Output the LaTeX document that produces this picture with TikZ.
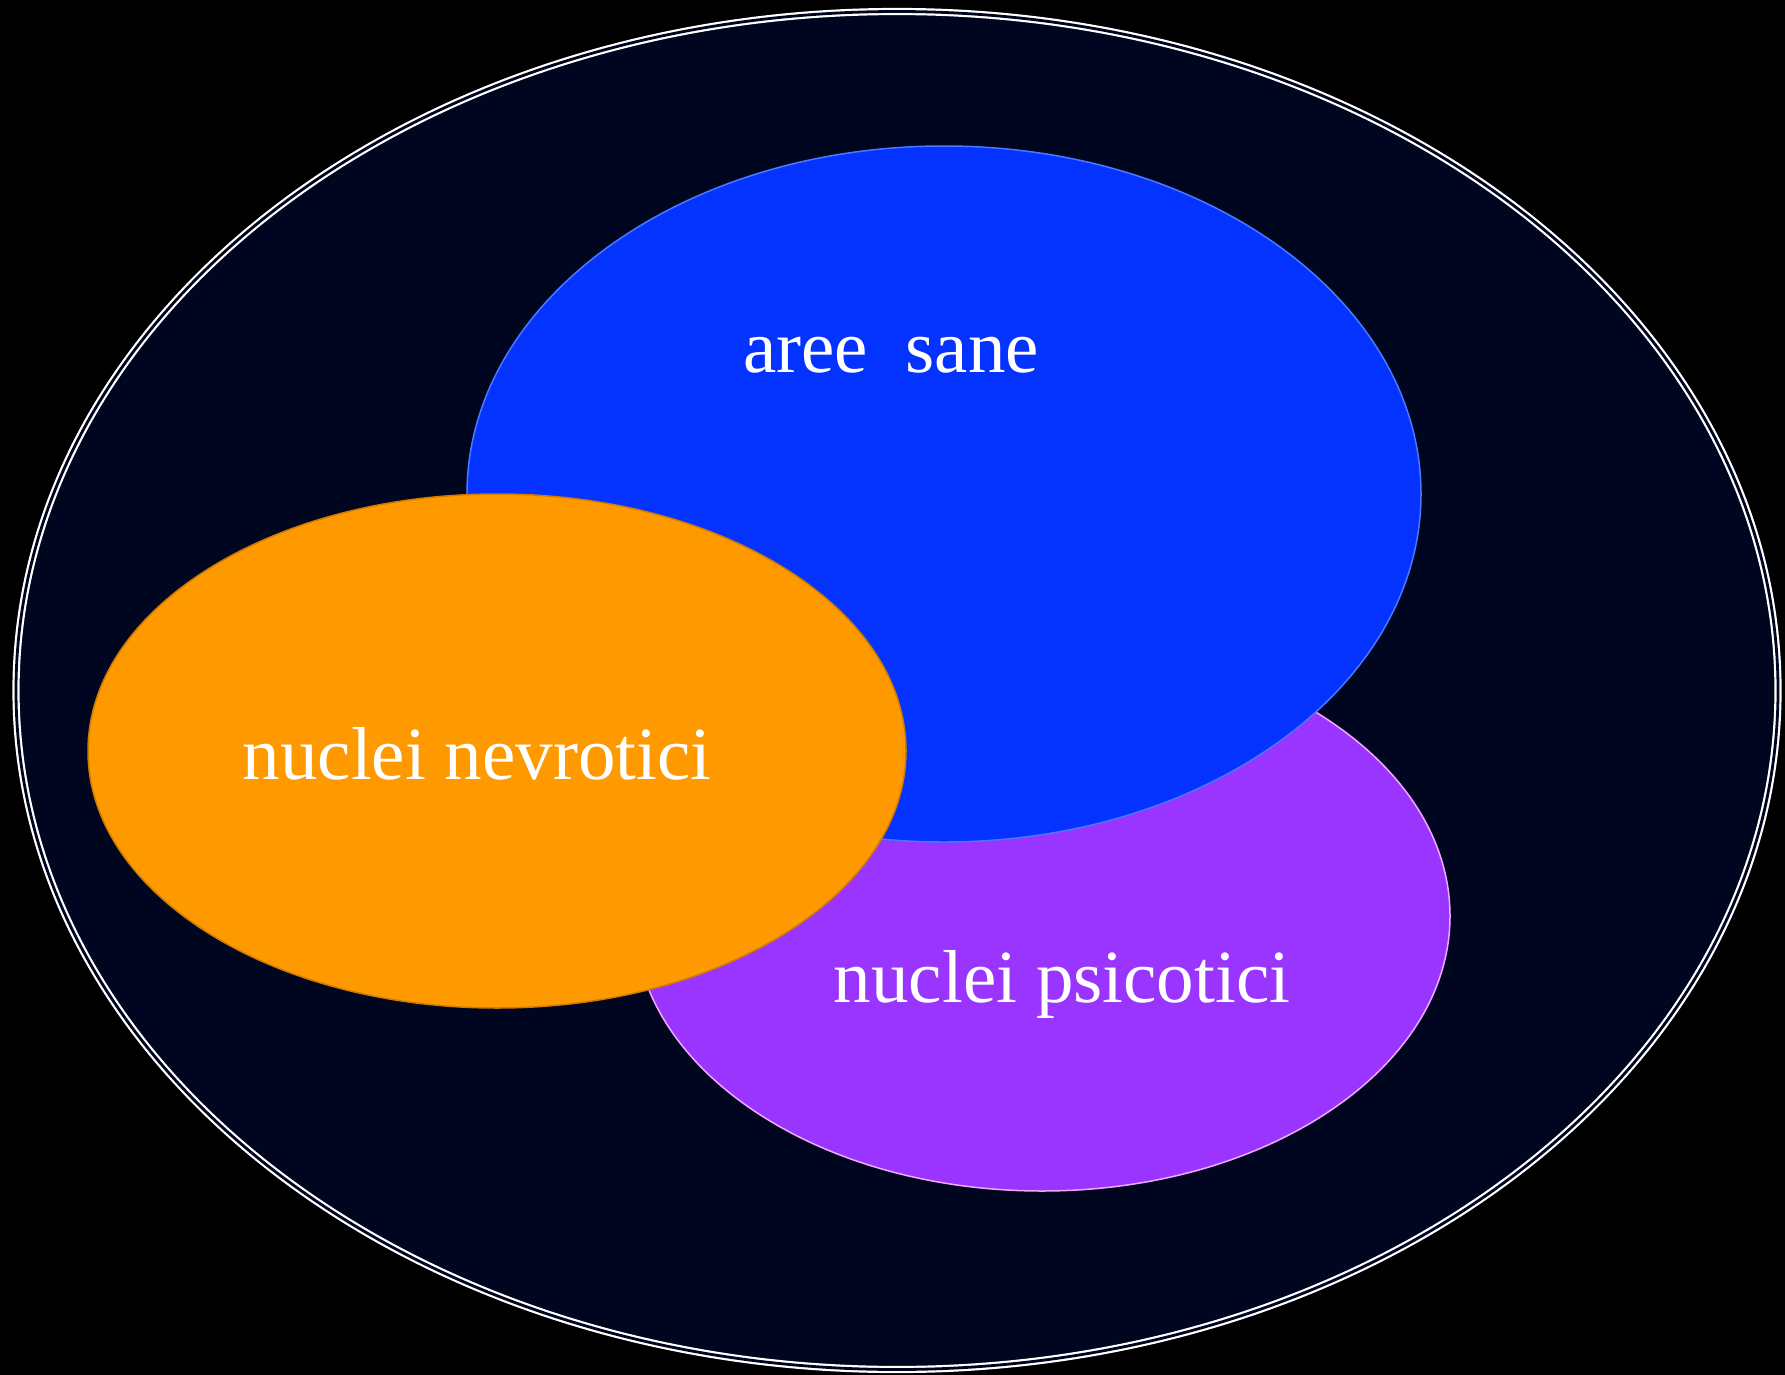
\documentclass[tikz,border=0pt]{standalone}
\usepackage{fontspec}
\setmainfont{Liberation Serif}
\definecolor{bgnavy}{HTML}{000520}
\definecolor{sanefill}{HTML}{0433FF}
\definecolor{saneedge}{HTML}{4A78FF}
\definecolor{psyfill}{HTML}{9A35FF}
\definecolor{psyedge}{HTML}{F4A8FF}
\definecolor{nevfill}{HTML}{FF9900}
\definecolor{nevedge}{HTML}{D07A00}
\tikzset{
  blob/.style={line width=1.5pt},
  lab/.style={text=white, font=\fontsize{75}{80}\selectfont, anchor=base, inner sep=0pt}
}
\begin{document}
\begin{tikzpicture}[x=1pt,y=-1pt]
\fill[black] (0,0) rectangle (1785,1375);
\useasboundingbox (0,0) rectangle (1785,1375);
% outer ellipse
\path[fill=bgnavy] (897,690.5) ellipse [x radius=883, y radius=681];
\draw[white, line width=2.2pt, double=bgnavy, double distance=2.8pt] (897,690.5) ellipse [x radius=881, y radius=679];
% psicotici
\path[blob, fill=psyfill, draw=psyedge] (1042,916) ellipse [x radius=408, y radius=275];
% sane
\path[blob, fill=sanefill, draw=saneedge] (944,494) ellipse [x radius=477, y radius=348];
% nevrotici
\path[blob, fill=nevfill, draw=nevedge] (497,751) ellipse [x radius=409, y radius=257];
\node[lab] (sane) at (891,372) {aree\ \ sane};
\node[lab] (nev) at (477,779) {nuclei nevrotici};
\node[lab] (psy) at (1062,1002) {nuclei psicotici};
\end{tikzpicture}
\end{document}
